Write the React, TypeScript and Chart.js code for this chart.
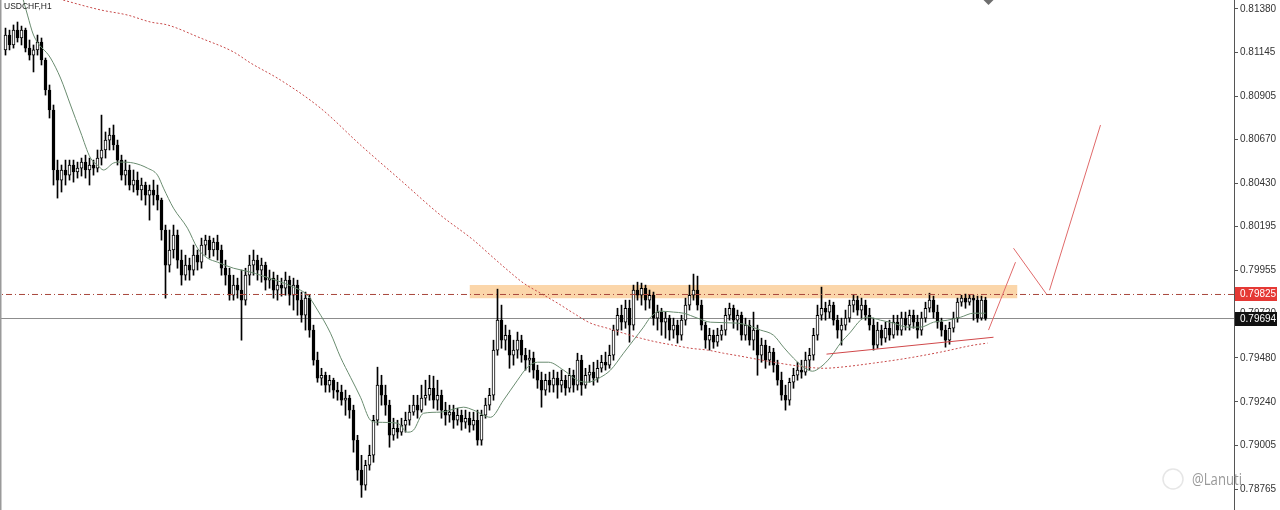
import React, { useEffect, useRef } from "react";
import { Chart, registerables } from "chart.js";

Chart.register(...registerables);

// ---- chart data (USDCHF, H1) ----
const symbolLabel = "USDCHF,H1";
const watermark = "@Lanuti";

const opens = [
  0.81157, 0.81238, 0.81184, 0.81265, 0.81222, 0.81265, 0.81167, 0.81129, 0.81157, 0.81200,
  0.81102, 0.80939, 0.80830, 0.80503, 0.80448, 0.80503, 0.80475, 0.80530, 0.80492, 0.80513,
  0.80546, 0.80503, 0.80530, 0.80513, 0.80568, 0.80612, 0.80666, 0.80693, 0.80639, 0.80557,
  0.80475, 0.80503, 0.80421, 0.80448, 0.80394, 0.80421, 0.80366, 0.80394, 0.80366, 0.80339,
  0.80176, 0.79985, 0.80067, 0.80148, 0.80012, 0.79930, 0.79985, 0.79958, 0.80039, 0.80001,
  0.80094, 0.80121, 0.80067, 0.80110, 0.80067, 0.79968, 0.79930, 0.79821, 0.79876, 0.79849,
  0.79794, 0.79930, 0.79985, 0.80012, 0.79958, 0.79985, 0.79903, 0.79914, 0.79849, 0.79876,
  0.79859, 0.79903, 0.79821, 0.79876, 0.79794, 0.79712, 0.79805, 0.79631, 0.79467, 0.79369,
  0.79385, 0.79331, 0.79358, 0.79304, 0.79293, 0.79249, 0.79260, 0.79195, 0.79031, 0.78868,
  0.78786, 0.78895, 0.78949, 0.79140, 0.79331, 0.79276, 0.79222, 0.79058, 0.79096, 0.79075,
  0.79113, 0.79140, 0.79184, 0.79222, 0.79195, 0.79260, 0.79276, 0.79314, 0.79249, 0.79276,
  0.79195, 0.79167, 0.79184, 0.79140, 0.79167, 0.79129, 0.79151, 0.79113, 0.79140, 0.79031,
  0.79167, 0.79222, 0.79276, 0.79522, 0.79685, 0.79576, 0.79603, 0.79494, 0.79522, 0.79576,
  0.79494, 0.79467, 0.79478, 0.79413, 0.79358, 0.79304, 0.79358, 0.79331, 0.79369, 0.79331,
  0.79358, 0.79314, 0.79385, 0.79331, 0.79467, 0.79331, 0.79385, 0.79402, 0.79369, 0.79423,
  0.79456, 0.79440, 0.79494, 0.79631, 0.79712, 0.79674, 0.79750, 0.79658, 0.79849, 0.79821,
  0.79859, 0.79794, 0.79821, 0.79696, 0.79729, 0.79674, 0.79696, 0.79631, 0.79658, 0.79603,
  0.79685, 0.79767, 0.79821, 0.79849, 0.79767, 0.79658, 0.79576, 0.79603, 0.79565, 0.79603,
  0.79631, 0.79712, 0.79750, 0.79685, 0.79712, 0.79603, 0.79658, 0.79576, 0.79631, 0.79494,
  0.79549, 0.79467, 0.79511, 0.79440, 0.79358, 0.79276, 0.79249, 0.79347, 0.79385, 0.79413,
  0.79402, 0.79467, 0.79494, 0.79603, 0.79712, 0.79750, 0.79729, 0.79767, 0.79685, 0.79631,
  0.79658, 0.79696, 0.79767, 0.79794, 0.79740, 0.79767, 0.79712, 0.79658, 0.79549, 0.79631,
  0.79587, 0.79641, 0.79603, 0.79674, 0.79631, 0.79696, 0.79658, 0.79712, 0.79674, 0.79631,
  0.79696, 0.79750, 0.79794, 0.79729, 0.79674, 0.79631, 0.79576, 0.79641, 0.79696, 0.79783,
  0.79805, 0.79783, 0.79805, 0.79794, 0.79696, 0.79794,
];

const highs = [
  0.81276, 0.81265, 0.81293, 0.81309, 0.81287, 0.81276, 0.81211, 0.81184, 0.81238, 0.81222,
  0.81113, 0.80966, 0.80857, 0.80557, 0.80530, 0.80557, 0.80557, 0.80557, 0.80546, 0.80568,
  0.80584, 0.80568, 0.80557, 0.80612, 0.80802, 0.80710, 0.80731, 0.80748, 0.80666, 0.80584,
  0.80557, 0.80530, 0.80503, 0.80492, 0.80459, 0.80437, 0.80421, 0.80448, 0.80421, 0.80350,
  0.80203, 0.80176, 0.80203, 0.80176, 0.80067, 0.80039, 0.80023, 0.80094, 0.80067, 0.80132,
  0.80148, 0.80143, 0.80132, 0.80148, 0.80094, 0.80012, 0.79968, 0.79930, 0.79914, 0.79958,
  0.79968, 0.80039, 0.80067, 0.80039, 0.80023, 0.80001, 0.79958, 0.79947, 0.79930, 0.79914,
  0.79947, 0.79925, 0.79914, 0.79903, 0.79838, 0.79838, 0.79821, 0.79658, 0.79511, 0.79423,
  0.79402, 0.79385, 0.79369, 0.79347, 0.79331, 0.79304, 0.79276, 0.79222, 0.79058, 0.78949,
  0.78922, 0.79004, 0.79167, 0.79429, 0.79385, 0.79331, 0.79249, 0.79151, 0.79140, 0.79151,
  0.79184, 0.79222, 0.79276, 0.79276, 0.79331, 0.79358, 0.79385, 0.79380, 0.79358, 0.79304,
  0.79238, 0.79222, 0.79222, 0.79205, 0.79195, 0.79195, 0.79184, 0.79184, 0.79195, 0.79195,
  0.79260, 0.79314, 0.79576, 0.79854, 0.79767, 0.79658, 0.79631, 0.79576, 0.79620, 0.79603,
  0.79532, 0.79522, 0.79511, 0.79440, 0.79402, 0.79391, 0.79402, 0.79413, 0.79402, 0.79413,
  0.79385, 0.79423, 0.79413, 0.79505, 0.79494, 0.79423, 0.79440, 0.79456, 0.79467, 0.79494,
  0.79511, 0.79549, 0.79658, 0.79750, 0.79767, 0.79794, 0.79794, 0.79876, 0.79892, 0.79887,
  0.79876, 0.79849, 0.79838, 0.79767, 0.79750, 0.79729, 0.79712, 0.79696, 0.79685, 0.79712,
  0.79805, 0.79876, 0.79936, 0.79925, 0.79794, 0.79674, 0.79641, 0.79631, 0.79641, 0.79658,
  0.79750, 0.79778, 0.79767, 0.79740, 0.79729, 0.79696, 0.79685, 0.79729, 0.79658, 0.79587,
  0.79576, 0.79543, 0.79532, 0.79467, 0.79402, 0.79331, 0.79369, 0.79423, 0.79456, 0.79467,
  0.79511, 0.79532, 0.79641, 0.79767, 0.79865, 0.79783, 0.79794, 0.79783, 0.79712, 0.79696,
  0.79740, 0.79794, 0.79821, 0.79816, 0.79805, 0.79794, 0.79750, 0.79696, 0.79674, 0.79658,
  0.79674, 0.79685, 0.79712, 0.79712, 0.79729, 0.79729, 0.79740, 0.79740, 0.79712, 0.79729,
  0.79783, 0.79832, 0.79816, 0.79767, 0.79696, 0.79658, 0.79674, 0.79729, 0.79805, 0.79821,
  0.79827, 0.79821, 0.79821, 0.79816, 0.79816, 0.79810,
];

const lows = [
  0.81129, 0.81157, 0.81167, 0.81200, 0.81184, 0.81146, 0.81102, 0.81037, 0.81129, 0.81075,
  0.80911, 0.80786, 0.80421, 0.80350, 0.80383, 0.80421, 0.80448, 0.80437, 0.80459, 0.80470,
  0.80459, 0.80421, 0.80475, 0.80492, 0.80530, 0.80568, 0.80612, 0.80612, 0.80530, 0.80448,
  0.80421, 0.80394, 0.80383, 0.80366, 0.80339, 0.80312, 0.80230, 0.80312, 0.80285, 0.80121,
  0.79805, 0.79947, 0.80023, 0.79968, 0.79876, 0.79903, 0.79903, 0.79930, 0.79958, 0.79968,
  0.80039, 0.80023, 0.80034, 0.80012, 0.79930, 0.79876, 0.79794, 0.79794, 0.79805, 0.79576,
  0.79767, 0.79876, 0.79930, 0.79903, 0.79892, 0.79849, 0.79859, 0.79805, 0.79794, 0.79816,
  0.79821, 0.79767, 0.79740, 0.79712, 0.79674, 0.79631, 0.79592, 0.79440, 0.79347, 0.79331,
  0.79293, 0.79293, 0.79260, 0.79249, 0.79222, 0.79167, 0.79151, 0.78966, 0.78813, 0.78720,
  0.78759, 0.78868, 0.78911, 0.79113, 0.79222, 0.79167, 0.78993, 0.79031, 0.79042, 0.79058,
  0.79075, 0.79113, 0.79167, 0.79151, 0.79184, 0.79222, 0.79249, 0.79205, 0.79195, 0.79151,
  0.79113, 0.79129, 0.79096, 0.79113, 0.79086, 0.79096, 0.79075, 0.79086, 0.79004, 0.79004,
  0.79151, 0.79195, 0.79249, 0.79494, 0.79532, 0.79522, 0.79423, 0.79440, 0.79478, 0.79456,
  0.79413, 0.79402, 0.79369, 0.79314, 0.79211, 0.79276, 0.79293, 0.79293, 0.79260, 0.79293,
  0.79276, 0.79293, 0.79293, 0.79304, 0.79276, 0.79314, 0.79347, 0.79331, 0.79347, 0.79402,
  0.79413, 0.79423, 0.79467, 0.79603, 0.79631, 0.79641, 0.79565, 0.79631, 0.79794, 0.79767,
  0.79740, 0.79750, 0.79658, 0.79631, 0.79603, 0.79587, 0.79576, 0.79587, 0.79560, 0.79576,
  0.79658, 0.79740, 0.79794, 0.79740, 0.79631, 0.79532, 0.79522, 0.79532, 0.79543, 0.79576,
  0.79603, 0.79685, 0.79641, 0.79631, 0.79576, 0.79576, 0.79549, 0.79522, 0.79385, 0.79456,
  0.79423, 0.79440, 0.79402, 0.79331, 0.79249, 0.79195, 0.79222, 0.79314, 0.79358, 0.79369,
  0.79385, 0.79413, 0.79467, 0.79576, 0.79685, 0.79685, 0.79696, 0.79658, 0.79587, 0.79549,
  0.79631, 0.79674, 0.79729, 0.79712, 0.79696, 0.79685, 0.79631, 0.79522, 0.79532, 0.79549,
  0.79565, 0.79576, 0.79587, 0.79603, 0.79603, 0.79631, 0.79631, 0.79641, 0.79587, 0.79603,
  0.79674, 0.79729, 0.79696, 0.79641, 0.79598, 0.79538, 0.79554, 0.79620, 0.79674, 0.79761,
  0.79750, 0.79767, 0.79685, 0.79674, 0.79685, 0.79685,
];

const closes = [
  0.81238, 0.81184, 0.81265, 0.81222, 0.81265, 0.81167, 0.81129, 0.81157, 0.81200, 0.81102,
  0.80939, 0.80830, 0.80503, 0.80448, 0.80503, 0.80475, 0.80530, 0.80492, 0.80513, 0.80546,
  0.80503, 0.80530, 0.80513, 0.80568, 0.80612, 0.80666, 0.80693, 0.80639, 0.80557, 0.80475,
  0.80503, 0.80421, 0.80448, 0.80394, 0.80421, 0.80366, 0.80394, 0.80366, 0.80339, 0.80176,
  0.79985, 0.80067, 0.80148, 0.80012, 0.79930, 0.79985, 0.79958, 0.80039, 0.80001, 0.80094,
  0.80121, 0.80067, 0.80110, 0.80067, 0.79968, 0.79930, 0.79821, 0.79876, 0.79849, 0.79794,
  0.79930, 0.79985, 0.80012, 0.79958, 0.79985, 0.79903, 0.79914, 0.79849, 0.79876, 0.79859,
  0.79903, 0.79821, 0.79876, 0.79794, 0.79712, 0.79805, 0.79631, 0.79467, 0.79369, 0.79385,
  0.79331, 0.79358, 0.79304, 0.79293, 0.79249, 0.79260, 0.79195, 0.79031, 0.78868, 0.78786,
  0.78895, 0.78949, 0.79140, 0.79331, 0.79276, 0.79222, 0.79058, 0.79096, 0.79075, 0.79113,
  0.79140, 0.79184, 0.79222, 0.79195, 0.79260, 0.79276, 0.79314, 0.79249, 0.79276, 0.79195,
  0.79167, 0.79184, 0.79140, 0.79167, 0.79129, 0.79151, 0.79113, 0.79140, 0.79031, 0.79167,
  0.79222, 0.79276, 0.79522, 0.79685, 0.79576, 0.79603, 0.79494, 0.79522, 0.79576, 0.79494,
  0.79467, 0.79478, 0.79413, 0.79358, 0.79304, 0.79358, 0.79331, 0.79369, 0.79331, 0.79358,
  0.79314, 0.79385, 0.79331, 0.79467, 0.79331, 0.79385, 0.79402, 0.79369, 0.79423, 0.79456,
  0.79440, 0.79494, 0.79631, 0.79712, 0.79674, 0.79750, 0.79658, 0.79849, 0.79821, 0.79859,
  0.79794, 0.79821, 0.79696, 0.79729, 0.79674, 0.79696, 0.79631, 0.79658, 0.79603, 0.79685,
  0.79767, 0.79821, 0.79849, 0.79767, 0.79658, 0.79576, 0.79603, 0.79565, 0.79603, 0.79631,
  0.79712, 0.79750, 0.79685, 0.79712, 0.79603, 0.79658, 0.79576, 0.79631, 0.79494, 0.79549,
  0.79467, 0.79511, 0.79440, 0.79358, 0.79276, 0.79249, 0.79347, 0.79385, 0.79413, 0.79402,
  0.79467, 0.79494, 0.79603, 0.79712, 0.79750, 0.79729, 0.79767, 0.79685, 0.79631, 0.79658,
  0.79696, 0.79767, 0.79794, 0.79740, 0.79767, 0.79712, 0.79658, 0.79549, 0.79631, 0.79587,
  0.79641, 0.79603, 0.79674, 0.79631, 0.79696, 0.79658, 0.79712, 0.79674, 0.79631, 0.79696,
  0.79750, 0.79794, 0.79729, 0.79674, 0.79631, 0.79576, 0.79641, 0.79696, 0.79783, 0.79805,
  0.79783, 0.79805, 0.79794, 0.79696, 0.79794, 0.79694,
];

// fast moving average: [bar index, price]
const fastMa: [number, number][] = [
  [3.75, 0.81484], [5.5, 0.81347], [7, 0.81238], [11.25, 0.81113], [13.75, 0.81004],
  [16.25, 0.80857], [18.75, 0.8071], [21.25, 0.80568], [23, 0.8053], [24.5, 0.80503],
  [27, 0.80541], [28.75, 0.80546], [32, 0.80541], [35.5, 0.80513], [38, 0.80475],
  [39.5, 0.80404], [42, 0.80295], [45.5, 0.80186], [48, 0.80077], [50.5, 0.80023],
  [53, 0.80001], [57, 0.79968], [61.25, 0.79947], [63.75, 0.7993], [72, 0.79865],
  [75.5, 0.79821], [78, 0.7974], [81.25, 0.79614], [83.75, 0.79483], [86.25, 0.79374],
  [88.75, 0.79265], [91.25, 0.7914], [93, 0.79129], [98, 0.79124], [100.5, 0.79075],
  [102, 0.79086], [104.5, 0.79178], [108.75, 0.79184], [114.5, 0.79211], [117, 0.79195],
  [121.25, 0.79156], [124.5, 0.79249], [128, 0.79358], [130.5, 0.79429], [133, 0.79456],
  [135.75, 0.79456], [139.5, 0.79413], [143, 0.79358], [145.5, 0.79347], [148.75, 0.79374],
  [151.25, 0.79413], [154.5, 0.79505], [157, 0.79576], [159.5, 0.79647], [161.25, 0.79701],
  [163.75, 0.79734], [167, 0.79729], [169.5, 0.79723], [173, 0.79696], [176.25, 0.79674],
  [183, 0.79669], [188.75, 0.79631], [192, 0.79603], [194.5, 0.79538], [197, 0.79478],
  [199.5, 0.79429], [201.75, 0.79407], [203.75, 0.79429], [206.25, 0.79483], [208.75, 0.7956],
  [211.25, 0.7962], [213.75, 0.79685], [215.5, 0.79701], [218.75, 0.79685], [222, 0.79669],
  [225.5, 0.79647], [228.75, 0.79647], [232, 0.79674], [235.5, 0.79685], [238.75, 0.79701],
  [242, 0.79723], [245, 0.79723],
];

// slow moving average: [bar index, price]
const slowMa: [number, number][] = [
  [12.5, 0.8144], [23.75, 0.81375], [30.5, 0.81347], [36.25, 0.81309], [40.5, 0.81293],
  [48.75, 0.81222], [57, 0.81146], [61.25, 0.81086], [68.75, 0.80993], [78.75, 0.8084],
  [88.75, 0.80639], [98.75, 0.80448], [108.75, 0.80257], [117, 0.80121], [121.25, 0.80039],
  [125.5, 0.79958], [129.5, 0.79887], [133.75, 0.79832], [138, 0.79778], [142, 0.79723],
  [146.25, 0.79669], [150.5, 0.79641], [154.5, 0.79614], [158.75, 0.79587], [163, 0.79565],
  [167, 0.79549], [171.25, 0.79532], [175.5, 0.79522], [179.5, 0.79505], [183.75, 0.79489],
  [192, 0.79456], [200.5, 0.79429], [204.5, 0.79423], [208.75, 0.79429], [217, 0.79451],
  [225.5, 0.79478], [233.75, 0.79511], [242, 0.79549], [245.5, 0.7956],
];

const priceTicks = [
  0.8138, 0.81145, 0.80905, 0.8067, 0.8043, 0.80195, 0.79955, 0.7972, 0.7948, 0.7924, 0.79005, 0.78765,
];

const resistanceLevel = 0.79825;
const bidLevel = 0.79694;
const zoneFrom = 116;
const zoneTo = 253;
const zoneTop = 0.79876;
const zoneBottom = 0.79805;
const supportLine: [number, number][] = [[205.25, 0.795], [247, 0.79592]];
const projectionLegs: [number, number][][] = [
  [[245.75, 0.79631], [252.5, 0.80001]],
  [[252, 0.80077], [260.25, 0.79827]],
  [[261, 0.79848], [273.75, 0.80748]],
];
const markerPoint: [number, number] = [245.75, 0.8144];

const xMin = -1.375;
const xMax = 307.125;
const yMin = 0.78651;
const yMax = 0.81429;

const FONT = '"Liberation Sans", Arial, sans-serif';

const pts = (list: [number, number][]) => list.map(([x, y]) => ({ x, y }));

const lineSet = (data: [number, number][], color: string, order: number, extra: any = {}) => ({
  type: "line" as const,
  data: pts(data),
  borderColor: color,
  borderWidth: 1,
  pointRadius: 0,
  fill: false,
  tension: 0,
  order,
  ...extra,
});

const overlayPlugin = {
  id: "mtOverlay",
  afterDraw(chart: any) {
    const { ctx, chartArea, scales } = chart;
    const ys = scales.y;
    ctx.save();

    // window frame on the left
    ctx.fillStyle = "#9a9a9a";
    ctx.fillRect(0, 0, 1.5, chart.height);

    // symbol caption
    ctx.font = `8.5px ${FONT}`;
    ctx.fillStyle = "#1e1e1e";
    ctx.textBaseline = "top";
    ctx.textAlign = "left";
    ctx.fillText(symbolLabel, 4, 2);

    // price tags on the axis
    const tag = (v: number, bg: string) => {
      const py = Math.round(ys.getPixelForValue(v));
      ctx.fillStyle = bg;
      ctx.fillRect(chartArea.right + 1, py - 7, 42, 14);
      ctx.fillStyle = "#ffffff";
      ctx.font = `10px ${FONT}`;
      ctx.textBaseline = "middle";
      ctx.fillText(v.toFixed(5), chartArea.right + 6, py + 0.5);
    };
    tag(resistanceLevel, "#e53935");
    tag(bidLevel, "#111111");

    // watermark
    ctx.strokeStyle = "rgba(205,205,205,0.5)";
    ctx.lineWidth = 1.5;
    ctx.beginPath();
    ctx.arc(1173, 479, 10, 0, Math.PI * 2);
    ctx.stroke();
    ctx.font = `16px "Open Sans", sans-serif`;
    ctx.fillStyle = "rgba(135,135,135,0.85)";
    ctx.textBaseline = "alphabetic";
    ctx.fillText(watermark, 1192, 485, 50);

    ctx.restore();
  },
};

export default function App() {
  const canvasRef = useRef<HTMLCanvasElement | null>(null);

  useEffect(() => {
    const canvas = canvasRef.current;
    if (!canvas) return;

    const idx = closes.map((_, i) => i);
    const wicks = idx.map((i) => ({ x: i, y: [lows[i], highs[i]] }));
    const bodies = idx.map((i) => ({ x: i, y: [opens[i], closes[i]] }));
    const bodyFill = idx.map((i) => (closes[i] > opens[i] ? "#ffffff" : "#000000"));

    const chart = new Chart(canvas, {
      type: "bar",
      data: {
        datasets: [
          lineSet([[zoneFrom, zoneTop], [zoneTo, zoneTop]], "rgba(0,0,0,0)", 20, { borderWidth: 0 }),
          lineSet([[zoneFrom, zoneBottom], [zoneTo, zoneBottom]], "rgba(0,0,0,0)", 20, {
            borderWidth: 0,
            fill: "-1",
            backgroundColor: "#fbd6aa",
          }),
          lineSet([[xMin - 5, bidLevel], [xMax + 5, bidLevel]], "#8c8c8c", 15),
          {
            type: "bar" as const,
            data: wicks as any,
            backgroundColor: "#000000",
            barThickness: 1,
            grouped: false,
            order: 10,
          },
          {
            type: "bar" as const,
            data: bodies as any,
            backgroundColor: bodyFill,
            borderColor: "#000000",
            borderWidth: 1,
            borderSkipped: false,
            barThickness: 3,
            grouped: false,
            order: 9,
          },
          lineSet(slowMa, "#c84b4b", 6, { borderDash: [2, 2], cubicInterpolationMode: "monotone" }),
          lineSet(fastMa, "#6a8c70", 5, { cubicInterpolationMode: "monotone" }),
          lineSet([[xMin - 5, resistanceLevel], [xMax + 5, resistanceLevel]], "#a8463c", 4, {
            borderDash: [6, 3, 1, 3],
          }),
          lineSet(supportLine, "#d0484a", 2),
          ...projectionLegs.map((leg) => lineSet(leg, "#e06a6a", 2)),
          {
            type: "line" as const,
            data: pts([markerPoint]),
            showLine: false,
            pointStyle: "rectRot",
            pointRadius: 7,
            pointBackgroundColor: "#6e6e6e",
            pointBorderWidth: 0,
            order: 1,
          },
        ] as any,
      },
      options: {
        animation: false,
        responsive: true,
        maintainAspectRatio: false,
        events: [],
        layout: { padding: 0, autoPadding: false },
        plugins: {
          legend: { display: false },
          tooltip: { enabled: false },
        },
        scales: {
          x: {
            type: "linear",
            display: false,
            min: xMin,
            max: xMax,
            offset: false,
          },
          y: {
            type: "linear",
            position: "right",
            min: yMin,
            max: yMax,
            afterBuildTicks: (s: any) => {
              s.ticks = priceTicks.map((value) => ({ value }));
            },
            afterFit: (s: any) => {
              s.width = 46;
              s.paddingTop = 0;
              s.paddingBottom = 0;
            },
            ticks: {
              callback: (v: any) => Number(v).toFixed(5),
              font: { family: FONT, size: 10 },
              color: "#333333",
              padding: 2,
              autoSkip: false,
            },
            grid: { drawOnChartArea: false, drawTicks: true, tickLength: 4, color: "#555555" },
            border: { display: true, color: "#555555", width: 1 },
          },
        },
      } as any,
      plugins: [overlayPlugin],
    });

    return () => chart.destroy();
  }, []);

  return (
    <div style={{ position: "fixed", left: 0, top: 0, width: 1280, height: 510, background: "#ffffff" }}>
      <canvas ref={canvasRef} />
    </div>
  );
}
